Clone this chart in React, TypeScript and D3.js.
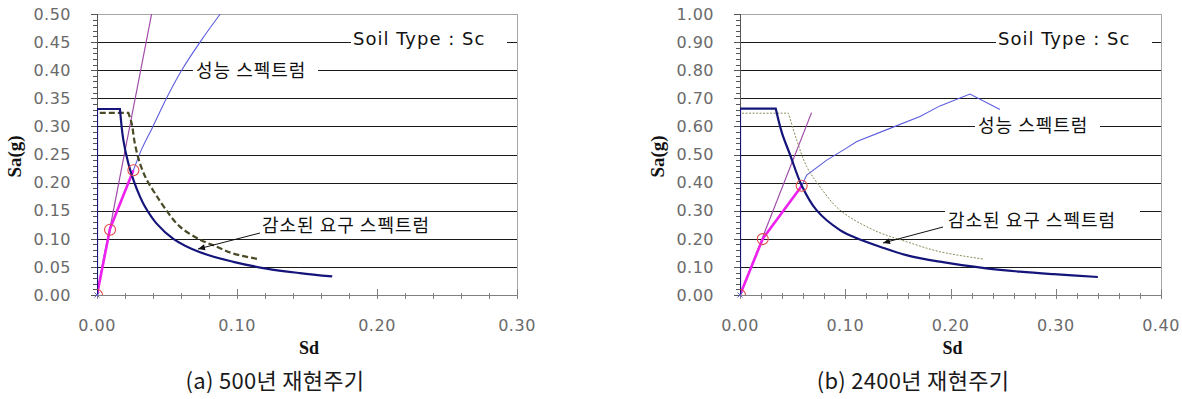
import React from "react";
import * as d3 from "d3";

type Pt = [number, number];

// ---- (a) 500-year return period ----
const demandA: Pt[] = [
  [0, 0], [0, 0.331], [0.0164, 0.331], [0.0188, 0.276], [0.0224, 0.234],
  [0.026, 0.205], [0.0307, 0.175], [0.0343, 0.157], [0.0426, 0.127],
  [0.0545, 0.100], [0.0736, 0.076], [0.0974, 0.059], [0.121, 0.047],
  [0.145, 0.039], [0.168, 0.033],
];
const reducedA: Pt[] = [
  [0.002, 0.324], [0.0224, 0.324], [0.0248, 0.305], [0.027, 0.27],
  [0.0307, 0.234], [0.0355, 0.205], [0.0414, 0.181], [0.0486, 0.154],
  [0.059, 0.122], [0.074, 0.098], [0.0855, 0.086], [0.097, 0.074], [0.115, 0.064],
];
const capacityA: Pt[] = [
  [0, 0], [0.0093, 0.116], [0.018, 0.172], [0.026, 0.222], [0.032, 0.26],
  [0.04, 0.3], [0.05, 0.352], [0.0605, 0.4], [0.0736, 0.45], [0.088, 0.5],
];
const bilinearA: Pt[] = [[0, 0], [0.0093, 0.118], [0.026, 0.222]];
const periodA: Pt[] = [[0, 0], [0.039, 0.5]];
const circlesA: Pt[] = [[0, 0], [0.0093, 0.116], [0.026, 0.222]];

// ---- (b) 2400-year return period ----
const demandB: Pt[] = [
  [0, 0], [0, 0.663], [0.034, 0.663], [0.040, 0.575], [0.0475, 0.50],
  [0.0586, 0.39], [0.0727, 0.302], [0.095, 0.231], [0.111, 0.202],
  [0.133, 0.172], [0.158, 0.142], [0.19, 0.1185], [0.234, 0.095],
  [0.266, 0.083], [0.298, 0.074], [0.34, 0.064],
];
const reducedB: Pt[] = [
  [0.002, 0.647], [0.046, 0.647], [0.054, 0.55], [0.0634, 0.457],
  [0.076, 0.385], [0.095, 0.302], [0.127, 0.231], [0.158, 0.19],
  [0.19, 0.154], [0.231, 0.128],
];
const capacityB: Pt[] = [
  [0, 0], [0.0216, 0.199], [0.0586, 0.389], [0.0634, 0.427], [0.0824, 0.48],
  [0.1, 0.52], [0.111, 0.546], [0.1425, 0.593], [0.171, 0.635],
  [0.19, 0.673], [0.2185, 0.715], [0.247, 0.66],
];
const bilinearB: Pt[] = [[0, 0], [0.0216, 0.2], [0.0586, 0.388]];
const periodB: Pt[] = [[0, 0], [0.068, 0.649]];
const circlesB: Pt[] = [[0, 0], [0.0216, 0.199], [0.0586, 0.389]];

const xTicksA = [0, 0.1, 0.2, 0.3];
const yTicksA = [0, 0.05, 0.1, 0.15, 0.2, 0.25, 0.3, 0.35, 0.4, 0.45, 0.5];
const xTicksB = [0, 0.1, 0.2, 0.3, 0.4];
const yTicksB = [0, 0.1, 0.2, 0.3, 0.4, 0.5, 0.6, 0.7, 0.8, 0.9, 1.0];

const soilLabel = "Soil Type : Sc";
const capacityLabel = "성능 스펙트럼";
const demandLabel = "감소된 요구 스펙트럼";
const captionA = "(a) 500년 재현주기";
const captionB = "(b) 2400년 재현주기";

const tickFont = "'DejaVu Sans', sans-serif";
const krFont = "'Noto Sans CJK KR', sans-serif";

type Box = { x: number; y: number; w: number; h: number };
type Note = { text: string; x: number; y: number; box?: Box; font: string; size: number; ls: number };

type PanelProps = {
  id: string;
  left: number; right: number; top: number; bottom: number;
  xMax: number; yMax: number;
  xTicks: number[]; yTicks: number[];
  xMinor: number; yMinor: number;
  demand: Pt[]; reduced: Pt[]; capacity: Pt[]; bilinear: Pt[]; period: Pt[]; circles: Pt[];
  thinReduced: boolean; smoothCapacity: boolean;
  notes: Note[];
  arrow: [number, number, number, number];
  caption: string; captionX: number;
};

const Panel = (p: PanelProps) => {
  const x = d3.scaleLinear().domain([0, p.xMax]).range([p.left, p.right]);
  const y = d3.scaleLinear().domain([0, p.yMax]).range([p.bottom, p.top]);
  const line = d3.line<Pt>().x((d) => x(d[0])).y((d) => y(d[1]));
  const smooth = d3.line<Pt>().x((d) => x(d[0])).y((d) => y(d[1])).curve(d3.curveCatmullRom.alpha(0.5));
  const xMinors = d3.range(0, p.xMax + 1e-9, p.xMinor);
  const yMinors = d3.range(0, p.yMax + 1e-9, p.yMinor);
  const [ax1, ay1, ax2, ay2] = p.arrow;
  const ang = Math.atan2(ay2 - ay1, ax2 - ax1);
  const hl = 7, hw = 3;
  const head = [
    [ax2, ay2],
    [ax2 - hl * Math.cos(ang) + hw * Math.sin(ang), ay2 - hl * Math.sin(ang) - hw * Math.cos(ang)],
    [ax2 - hl * Math.cos(ang) - hw * Math.sin(ang), ay2 - hl * Math.sin(ang) + hw * Math.cos(ang)],
  ];
  // plateau drawn straight, descending branch smoothed
  const demandPath = (line(p.demand.slice(0, 3)) ?? "") + (smooth(p.demand.slice(2)) ?? "").replace(/^M/, "L");
  const reducedPath = (line(p.reduced.slice(0, 2)) ?? "") + (smooth(p.reduced.slice(1)) ?? "").replace(/^M/, "L");
  const capacityPath = p.smoothCapacity ? smooth(p.capacity) ?? "" : line(p.capacity) ?? "";

  return (
    <g>
      <defs>
        <clipPath id={p.id}>
          <rect x={p.left} y={p.top - 1} width={p.right - p.left} height={p.bottom - p.top + 1} />
        </clipPath>
      </defs>
      {/* border */}
      <rect x={p.left + 0.5} y={p.top + 0.5} width={p.right - p.left} height={p.bottom - p.top} fill="#fff" stroke="#a6a6a6" />
      {/* gridlines */}
      {p.yTicks.slice(1, -1).map((t) => (
        <line key={"g" + t} x1={p.left} x2={p.right} y1={Math.round(y(t)) + 0.5} y2={Math.round(y(t)) + 0.5} stroke="#1a1a1a" />
      ))}
      {/* annotation boxes covering gridlines */}
      {p.notes.map((n, i) => n.box && (
        <rect key={"b" + i} x={n.box.x} y={n.box.y} width={n.box.w} height={n.box.h} fill="#fff" />
      ))}
      {/* x axis */}
      <line x1={p.left} x2={p.right} y1={p.bottom + 0.5} y2={p.bottom + 0.5} stroke="#808080" />
      {xMinors.map((t, i) => (
        <line key={"xm" + i} x1={Math.round(x(t)) + 0.5} x2={Math.round(x(t)) + 0.5} y1={p.bottom - 2} y2={p.bottom + 4} stroke="#808080" />
      ))}
      {p.xTicks.map((t) => (
        <line key={"xt" + t} x1={Math.round(x(t)) + 0.5} x2={Math.round(x(t)) + 0.5} y1={p.bottom - 6} y2={p.bottom + 4} stroke="#808080" />
      ))}
      {p.xTicks.map((t) => (
        <text key={"xl" + t} x={x(t)} y={331} textAnchor="middle" fontFamily={tickFont} fontSize={16} fill="#6a6a6a" letterSpacing={0.5}>
          {d3.format(".2f")(t)}
        </text>
      ))}
      {/* y axis */}
      <line x1={p.left + 0.5} x2={p.left + 0.5} y1={p.top} y2={p.bottom} stroke="#555" />
      {yMinors.map((t, i) => (
        <line key={"ym" + i} x1={p.left - 4} x2={p.left} y1={Math.round(y(t)) + 0.5} y2={Math.round(y(t)) + 0.5} stroke="#555" />
      ))}
      {p.yTicks.map((t) => (
        <line key={"yt" + t} x1={p.left - 6} x2={p.left} y1={Math.round(y(t)) + 0.5} y2={Math.round(y(t)) + 0.5} stroke="#555" />
      ))}
      {p.yTicks.map((t) => (
        <text key={"yl" + t} x={p.left - 26} y={y(t)} dy="0.36em" textAnchor="end" fontFamily={tickFont} fontSize={16} fill="#6a6a6a" letterSpacing={0.5}>
          {d3.format(".2f")(t)}
        </text>
      ))}
      {/* series */}
      <g clipPath={`url(#${p.id})`} fill="none">
        <path d={line(p.period) ?? ""} stroke="#a04aa8" strokeWidth={1.2} />
        <path d={capacityPath} stroke="#5c5ce0" strokeWidth={1.1} />
        <path d={line(p.bilinear) ?? ""} stroke="#ee22ee" strokeWidth={2.6} />
        <path
          d={reducedPath}
          stroke={p.thinReduced ? "#8a8a5a" : "#4a4a26"}
          strokeWidth={p.thinReduced ? 1 : 2.2}
          strokeDasharray={p.thinReduced ? "2,1.5" : "6,3"}
        />
        <path d={demandPath} stroke="#14147a" strokeWidth={2.2} />
        {p.circles.map((c, i) => (
          <circle key={"c" + i} cx={x(c[0])} cy={y(c[1])} r={5.5} stroke="#e04848" strokeWidth={1.1} fill="none" />
        ))}
      </g>
      <path
        d={`M${x(0) - 2.5},${y(0) - 2.5}L${x(0) + 2.5},${y(0) + 2.5}M${x(0) - 2.5},${y(0) + 2.5}L${x(0) + 2.5},${y(0) - 2.5}`}
        stroke="#6060c0" strokeWidth={1}
      />
      {/* annotations */}
      {p.notes.map((n, i) => (
        <text key={"n" + i} x={n.x} y={n.y} fontFamily={n.font} fontSize={n.size} letterSpacing={n.ls} fill="#111">
          {n.text}
        </text>
      ))}
      <line x1={ax1} y1={ay1} x2={ax2} y2={ay2} stroke="#111" strokeWidth={1} />
      <path d={"M" + head.map((h) => h.join(",")).join("L") + "Z"} fill="#111" />
      {/* axis titles */}
      <text
        transform={`translate(${p.left - 76},${(p.top + p.bottom) / 2 + 2}) rotate(-90)`}
        textAnchor="middle"
        fontFamily="'Liberation Serif', serif"
        fontWeight="bold"
        fontSize={19}
        fill="#111"
      >
        Sa(g)
      </text>
      <text x={(p.left + p.right) / 2 + 2} y={354} textAnchor="middle" fontFamily="'Liberation Serif', serif" fontWeight="bold" fontSize={18} fill="#111">
        Sd
      </text>
      <text x={p.captionX} y={389} textAnchor="middle" fontFamily={krFont} fontSize={22} fill="#1a1a1a" letterSpacing={0.3}>
        {p.caption}
      </text>
    </g>
  );
};

export default function App() {
  return (
    <svg width={1182} height={399} style={{ position: "absolute", left: 0, top: 0, background: "#fff" }}>
      <rect width={1182} height={399} fill="#fff" />
      <Panel
        id="clipA"
        left={97} right={517} top={14} bottom={295}
        xMax={0.3} yMax={0.5}
        xTicks={xTicksA} yTicks={yTicksA}
        xMinor={0.02} yMinor={0.01}
        demand={demandA} reduced={reducedA} capacity={capacityA}
        bilinear={bilinearA} period={periodA} circles={circlesA}
        thinReduced={false} smoothCapacity={true}
        notes={[
          { text: soilLabel, x: 353, y: 45, box: { x: 351, y: 27, w: 156, h: 20 }, font: tickFont, size: 18, ls: 1 },
          { text: capacityLabel, x: 196, y: 77, box: { x: 193, y: 60, w: 125, h: 20 }, font: krFont, size: 18, ls: 1 },
          { text: demandLabel, x: 262, y: 232, font: krFont, size: 18, ls: 1 },
        ]}
        arrow={[260, 233, 198, 249]}
        caption={captionA} captionX={275}
      />
      <Panel
        id="clipB"
        left={740} right={1161} top={14} bottom={295}
        xMax={0.4} yMax={1.0}
        xTicks={xTicksB} yTicks={yTicksB}
        xMinor={0.02} yMinor={0.02}
        demand={demandB} reduced={reducedB} capacity={capacityB}
        bilinear={bilinearB} period={periodB} circles={circlesB}
        thinReduced={true} smoothCapacity={false}
        notes={[
          { text: soilLabel, x: 998, y: 45, box: { x: 996, y: 27, w: 156, h: 20 }, font: tickFont, size: 18, ls: 1 },
          { text: capacityLabel, x: 978, y: 132, box: { x: 975, y: 115, w: 125, h: 21 }, font: krFont, size: 18, ls: 1 },
          { text: demandLabel, x: 948, y: 227, box: { x: 945, y: 208, w: 195, h: 24 }, font: krFont, size: 18, ls: 1 },
        ]}
        arrow={[943, 227, 883, 243]}
        caption={captionB} captionX={913}
      />
    </svg>
  );
}
